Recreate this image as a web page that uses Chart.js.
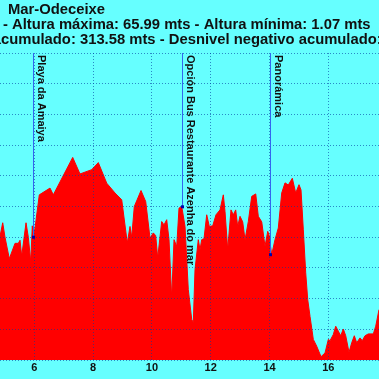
<!DOCTYPE html>
<html>
<head>
<meta charset="utf-8">
<script src="https://cdn.jsdelivr.net/npm/chart.js@4.4.1/dist/chart.umd.min.js"></script>
<style>
html, body { margin: 0; padding: 0; background: #66ffff; overflow: hidden; }
#wrap { width: 379px; height: 379px; }
</style>
</head>
<body>
<div id="wrap"><canvas id="profileChart" width="379" height="379"></canvas></div>
<script>
// perfil: distancia (km) y altura (m)
var distKm = [4.80, 4.833, 4.925, 5.003, 5.150, 5.344, 5.456, 5.514, 5.571, 5.718, 5.796, 5.878, 5.932, 5.966,
    6.024, 6.170, 6.534, 6.646, 7.306, 7.554, 7.952, 8.177, 8.463, 8.745, 8.973, 9.163, 9.255, 9.313,
    9.401, 9.629, 9.789, 9.935, 10.048, 10.129, 10.197, 10.333, 10.411, 10.503, 10.582, 10.673, 10.752,
    10.844, 10.922, 11.015, 11.034, 11.126, 11.238, 11.354, 11.408, 11.466, 11.578, 11.636, 11.694, 11.772,
    11.864, 11.952, 12.068, 12.180, 12.316, 12.429, 12.486, 12.578, 12.690, 12.769, 12.850, 12.918,
    12.997, 13.088, 13.167, 13.279, 13.395, 13.531, 13.619, 13.735, 13.847, 13.939, 13.993, 14.020, 14.075,
    14.187, 14.299, 14.415, 14.527, 14.639, 14.776, 14.891, 15.003, 15.071, 15.150, 15.231, 15.299,
    15.378, 15.490, 15.605, 15.752, 15.888, 16.000, 16.058, 16.170, 16.252, 16.340, 16.422, 16.510,
    16.592, 16.704, 16.796, 16.884, 16.966, 17.078, 17.156, 17.248, 17.360, 17.531, 17.612, 17.724, 17.76];
var altitude = [41, 40.3, 44.7, 40, 33, 38, 38, 39, 33.8, 44.7, 40, 32, 43.7, 40,
    43, 53.8, 56, 53.8, 65.99, 60.6, 62, 64.3, 57.6, 54.4, 52.2, 38.1, 43.5, 40,
    50, 55.2, 51.6, 39.7, 41.4, 40.5, 33.2, 45.1, 44, 45.7, 39.2, 20.2, 39.2,
    37, 49.5, 49.9, 48.9, 43.5, 22.9, 13.2, 12.2, 29.4, 39.2, 35.9, 39.2, 39.5,
    47.3, 43.5, 43.7, 47.3, 48.9, 53.8, 48.4, 35.9, 48.9, 47.3, 48.9, 43.5,
    46.8, 45, 39.2, 45.1, 53.3, 54.1, 46.8, 45, 37, 41.9, 40.5, 38, 34.3,
    39.2, 43, 54.4, 57.7, 57, 59.2, 54.4, 57.1, 55.4, 42.4, 28.4, 19.7,
    14.2, 6.7, 4.5, 1.07, 2.3, 6.7, 6.3, 8.3, 11, 9.4, 7.9, 10.1,
    7.9, 2.5, 5.6, 7.9, 5.6, 7.2, 6.3, 7.9, 8.5, 8.5, 11, 16.4, 18];

var xTicks = [6, 8, 10, 12, 14, 16];
var yTicks = [0, 10, 20, 30, 40, 50, 60, 70, 80, 90, 100];

// puntos de interes
var poiKm = [5.966, 11.015, 14.02];
var poiAlt = [40, 49.9, 34.3];
var poiNames = ['Playa da Amaiya', 'Opción Bus Restaurante Azenha do mar', 'Panorámica'];

var titleLines = [
    'Mar-Odeceixe',
    'Distancia: 17.85 Km - Altura máxima: 65.99 mts - Altura mínima: 1.07 mts',
    'Desnivel positivo acumulado: 313.58 mts - Desnivel negativo acumulado: 336.40 mts'
];
var titleVisible = ['Mar-Odeceixe', '- Altura', 'cumulado'];

var FONT = '"Liberation Sans", Arial, sans-serif';
var gridColor = 'rgba(0, 60, 160, 0.6)';

var bgPlugin = {
    id: 'bg',
    beforeDraw: function(chart) {
        var c = chart.ctx;
        c.save();
        c.fillStyle = '#66ffff';
        c.fillRect(0, 0, chart.width, chart.height);
        c.restore();
    }
};

var poiPlugin = {
    id: 'poi',
    afterDraw: function(chart) {
        var c = chart.ctx;
        var xs = chart.scales.x, ys = chart.scales.y;
        var top = chart.chartArea.top;
        c.save();
        for (var i = 0; i < poiKm.length; i++) {
            var px = Math.round(xs.getPixelForValue(poiKm[i])) + 0.5;
            var py = ys.getPixelForValue(poiAlt[i]);
            c.strokeStyle = '#3366ee';
            c.lineWidth = 1;
            c.beginPath();
            c.moveTo(px, top);
            c.lineTo(px, py);
            c.stroke();
            c.fillStyle = '#0000aa';
            c.fillRect(px - 1.5, py - 1.5, 3, 3);

            c.save();
            c.translate(px + 2, top + 2);
            c.rotate(Math.PI / 2);
            c.font = 'bold 11px ' + FONT;
            c.fillStyle = '#111';
            c.textAlign = 'left';
            c.textBaseline = 'bottom';
            c.fillText(poiNames[i], 0, 0);
            c.restore();
        }
        c.restore();
    }
};

var titlePlugin = {
    id: 'titulo',
    afterDraw: function(chart) {
        var c = chart.ctx;
        var anchors = [8, 3, 1];
        var baselines = [13.5, 28.5, 43.5];
        c.save();
        c.font = 'bold 14.8px ' + FONT;
        c.fillStyle = '#111';
        c.textAlign = 'left';
        c.textBaseline = 'alphabetic';
        for (var i = 0; i < titleLines.length; i++) {
            var idx = titleLines[i].indexOf(titleVisible[i]);
            var pre = c.measureText(titleLines[i].substring(0, idx)).width;
            c.fillText(titleLines[i], anchors[i] - pre, baselines[i]);
        }
        c.restore();
    }
};

var ctx = document.getElementById('profileChart').getContext('2d');
var points = distKm.map(function(d, i) { return { x: d, y: altitude[i] }; });

var myChart = new Chart(ctx, {
    type: 'line',
    data: {
        datasets: [{
            data: points,
            fill: 'origin',
            backgroundColor: '#ff0000',
            borderColor: '#ff0000',
            borderWidth: 1,
            pointRadius: 0,
            tension: 0
        }]
    },
    options: {
        responsive: false,
        animation: false,
        layout: { padding: { top: 53, left: 0, right: 0, bottom: 0 } },
        plugins: {
            legend: { display: false },
            tooltip: { enabled: false }
        },
        scales: {
            x: {
                type: 'linear',
                min: 4.833,
                max: 17.724,
                afterBuildTicks: function(s) { s.ticks = xTicks.map(function(v) { return { value: v }; }); },
                afterFit: function(s) { s.height = 19; },
                ticks: {
                    font: { family: FONT, size: 11, weight: 'bold' },
                    color: '#111',
                    padding: 1,
                    maxRotation: 0,
                    autoSkip: false
                },
                grid: { color: gridColor, lineWidth: 1, drawTicks: false, z: 1 },
                border: { display: false, dash: [1, 2] }
            },
            y: {
                min: 0,
                max: 100,
                afterBuildTicks: function(s) { s.ticks = yTicks.map(function(v) { return { value: v }; }); },
                afterFit: function(s) { s.width = 0; },
                ticks: { display: false },
                grid: { color: gridColor, lineWidth: 1, drawTicks: false, z: 1 },
                border: { display: false, dash: [1, 2] }
            }
        }
    },
    plugins: [bgPlugin, poiPlugin, titlePlugin]
});
</script>
</body>
</html>
